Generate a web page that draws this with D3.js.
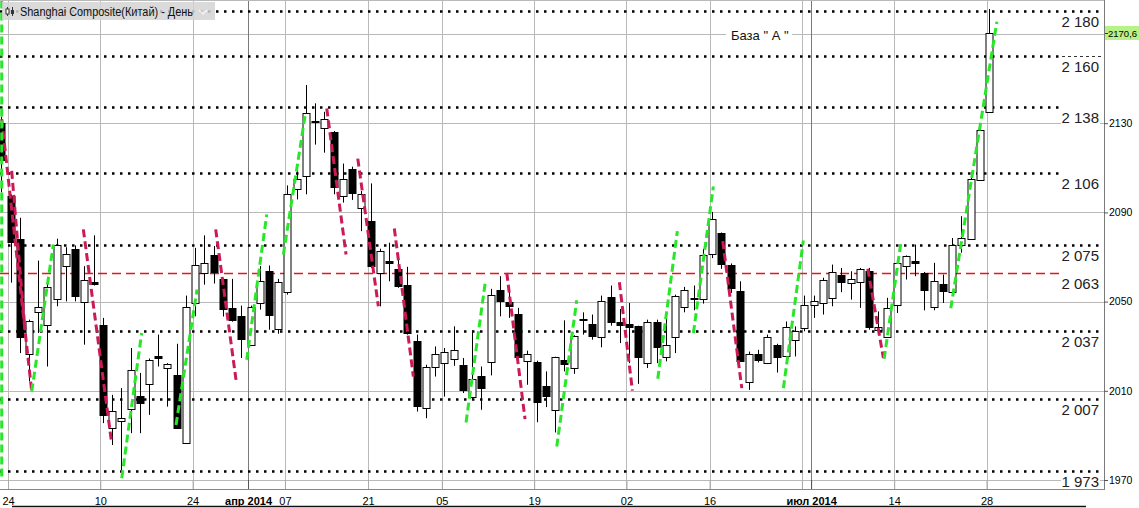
<!DOCTYPE html>
<html>
<head>
<meta charset="utf-8">
<script src="https://cdn.jsdelivr.net/npm/d3@7"></script>
<style>
  html, body { margin: 0; padding: 0; background: #fff; }
  svg { display: block; font-family: "Liberation Sans", Arial, sans-serif; }
</style>
</head>
<body>
<div id="chart"></div>
<script>
// Daily candles, Feb 21 2014 (index -1) .. Jul 28 2014 (index 106)
const firstIndex = -1;
const open = [2130.3, 2097.2, 2077.9, 2026.5, 2045.4, 2039.5, 2051.2, 2066.2, 2073.7, 2049.9, 2059.0,
  2039.5, 1993.7, 1996.4, 2001.8, 2007.8, 2013.0, 2025.7, 2020.2, 2017.2, 1986.5, 2049.4,
  2062.9, 2070.7, 2060.2, 2047.2, 2043.7, 2030.5, 2049.4, 2063.8, 2037.7, 2054.5,
  2100.8, 2106.0, 2130.9, 2127.6, 2126.1, 2097.4, 2109.6, 2091.7, 2086.1, 2062.9,
  2068.2, 2064.4, 2057.6, 2032.5, 2002.2, 2020.9, 2022.4, 2024.2, 2021.7, 2007.2,
  2016.7, 2022.9, 2055.4, 2049.7, 2044.6, 2023.6, 2023.0, 2012.2, 2001.5, 2023.6,
  2020.2, 2042.1, 2040.1, 2034.4, 2052.1, 2040.7, 2039.8, 2038.9, 2022.4, 2041.0,
  2025.1, 2034.4, 2047.9, 2051.8, 2051.2, 2071.0, 2080.6, 2066.2, 2054.9, 2013.9,
  2026.6, 2022.4, 2030.7, 2025.4, 2032.6, 2038.4, 2048.5, 2049.4, 2051.7, 2062.1,
  2058.4, 2058.4, 2063.6, 2037.4, 2034.1, 2048.2, 2065.9, 2068.1, 2062.9, 2047.6,
  2058.1, 2054.2, 2075.2, 2078.2, 2104.5, 2135.1];
const high = [2133.0, 2098.0, 2087.6, 2041.9, 2068.4, 2058.4, 2078.2, 2074.4, 2075.2, 2065.9, 2079.7,
  2042.7, 2008.2, 2011.2, 2029.2, 2018.0, 2024.5, 2035.2, 2022.4, 2031.1, 2052.7, 2074.1,
  2079.7, 2074.9, 2060.4, 2060.2, 2048.2, 2048.2, 2065.9, 2066.2, 2060.2, 2102.1,
  2109.6, 2147.1, 2138.9, 2135.1, 2126.5, 2111.9, 2110.5, 2099.6, 2103.0, 2073.7,
  2076.4, 2070.7, 2065.6, 2035.2, 2021.7, 2029.9, 2029.2, 2038.9, 2024.7, 2037.0,
  2020.9, 2055.7, 2061.4, 2056.2, 2047.2, 2028.0, 2023.5, 2018.7, 2025.3, 2041.6,
  2034.9, 2045.2, 2044.2, 2052.7, 2057.2, 2046.7, 2049.4, 2039.2, 2041.9, 2041.9,
  2045.2, 2053.1, 2056.6, 2057.2, 2073.7, 2090.2, 2081.0, 2067.1, 2059.1, 2027.6,
  2028.4, 2035.2, 2031.1, 2041.1, 2038.9, 2052.7, 2052.7, 2060.7, 2066.6, 2065.1,
  2063.6, 2065.1, 2065.1, 2045.6, 2051.7, 2068.0, 2070.7, 2075.6, 2063.3, 2067.4,
  2062.1, 2078.5, 2088.3, 2108.1, 2127.6, 2181.2];
const low = [2099.0, 2058.5, 2026.9, 2014.2, 2035.9, 2020.9, 2047.9, 2050.1, 2050.1, 2030.7, 2057.2,
  1995.5, 1985.7, 1971.5, 1991.0, 1991.0, 1999.2, 2020.9, 2002.9, 1993.2, 1986.5, 2043.4,
  2057.6, 2058.1, 2043.3, 2041.0, 2024.7, 2030.2, 2046.4, 2037.4, 2035.6, 2053.1,
  2095.8, 2098.1, 2120.4, 2116.8, 2098.1, 2094.4, 2095.6, 2081.6, 2065.1, 2047.9,
  2059.1, 2056.2, 2035.2, 2000.7, 1997.7, 2016.4, 2007.4, 2021.2, 2009.0, 2006.0,
  2001.5, 2016.9, 2043.4, 2042.7, 2024.7, 2012.7, 1995.9, 2002.7, 1991.3, 2018.7,
  2017.6, 2035.2, 2032.9, 2029.5, 2039.2, 2031.4, 2022.4, 2013.1, 2020.2, 2022.4,
  2023.2, 2026.9, 2045.2, 2046.1, 2049.1, 2069.5, 2064.7, 2053.9, 2023.2, 2010.4,
  2022.7, 2022.0, 2018.2, 2025.3, 2025.4, 2036.7, 2042.7, 2044.2, 2047.9, 2054.2,
  2050.9, 2047.2, 2037.4, 2035.9, 2033.8, 2044.9, 2059.9, 2061.4, 2046.1, 2046.1,
  2049.4, 2054.0, 2071.9, 2077.9, 2104.4, 2134.8];
const close = [2113.8, 2076.5, 2034.0, 2041.5, 2047.6, 2056.6, 2075.5, 2071.4, 2052.8, 2059.8, 2058.1,
  1999.1, 2001.1, 1997.7, 2019.3, 2004.5, 2023.9, 2025.0, 2022.0, 1993.5, 2047.6, 2066.6,
  2067.4, 2063.2, 2046.7, 2041.6, 2033.2, 2047.4, 2059.3, 2044.0, 2059.0, 2098.4,
  2105.2, 2134.4, 2130.4, 2131.8, 2101.5, 2105.2, 2098.9, 2098.1, 2065.9, 2072.9,
  2067.5, 2056.9, 2035.9, 2003.3, 2020.7, 2026.6, 2027.4, 2028.4, 2010.4, 2015.4,
  2011.2, 2053.1, 2050.6, 2047.9, 2025.1, 2026.6, 2005.2, 2007.8, 2025.1, 2021.6,
  2034.7, 2041.7, 2034.7, 2050.4, 2040.7, 2039.3, 2038.4, 2025.1, 2040.9, 2029.9,
  2030.7, 2052.7, 2055.4, 2051.2, 2071.0, 2086.9, 2066.6, 2055.7, 2023.6, 2026.6,
  2023.9, 2034.1, 2025.4, 2038.6, 2036.7, 2048.5, 2050.1, 2059.9, 2063.2, 2059.1,
  2060.2, 2064.4, 2038.6, 2038.6, 2047.2, 2067.1, 2070.4, 2067.1, 2055.4, 2059.1,
  2055.1, 2075.5, 2078.5, 2105.2, 2126.9, 2170.6];

// Time axis ticks (bar index) and labels
const tickIndex = [0, 10, 20, 26, 30, 39, 47, 57, 67, 76, 86, 87, 96, 106];
const tickLabels = ["24", "10", "24", "апр 2014", "07", "21", "05", "19", "02", "16", "", "июл 2014", "14", "28"];
const monthTicks = ["апр 2014", "июл 2014"];

// Price axis
const priceTicks = [2130, 2090, 2050, 2010, 1970];
const gridPrices = [2170, 2130, 2090, 2050, 2010, 1970];
const lastPrice = 2170.6;

// Analyst levels
const levelValues = [2180.5, 2160, 2137.3, 2107.7, 2075.5, 2037, 2006.5, 1974];
const levelLabels = ["2 180", "2 160", "2 138", "2 106", "2 075", "2 037", "2 007", "1 973"];
const redLevel = 2063;
const redLevelLabel = "2 063";

// Trend strokes [startIndex, startPrice, endIndex, endPrice]
const redTrends = [
  [-0.95, 2131.8, 2.3, 2009.7], [0.13, 2108.6, 1.57, 2037.4], [7.89, 2082.4, 10.96, 1986.5],
  [22.23, 2082.4, 24.43, 2014.9], [34.26, 2136.6, 36.35, 2071.1], [37.62, 2114.1, 39.85, 2047.9],
  [41.58, 2082.8, 43.64, 2016.4], [53.76, 2062.9, 55.74, 1997.3], [65.96, 2058.7, 67.37, 2010.1],
  [77.16, 2077.1, 79.22, 2011.2], [92.87, 2064.7, 94.56, 2024.7]
];
const greenTrends = [
  [-0.95, 2185.0, -0.95, 1970.0], [2.3, 2009.7, 4.64, 2075.6], [12.05, 1970.8, 14.21, 2035.9],
  [17.93, 1994.7, 20.21, 2055.4], [25.59, 2023.9, 27.76, 2089.1], [29.56, 2071.1, 31.91, 2133.3],
  [49.35, 1995.8, 51.41, 2058.0], [59.18, 1985.0, 61.34, 2050.6], [70.12, 2015.4, 72.24, 2081.6],
  [73.98, 2035.9, 76.14, 2101.6], [83.73, 2011.2, 85.89, 2077.4], [94.64, 2024.3, 96.45, 2076.4],
  [101.86, 2047.0, 106.85, 2175.5]
];

const title = "Shanghai Composite(Китай) - День";
const note = "База \" А \"";

// Layout
const W = 1139, H = 508;
const plotRight = 1104, plotBottom = 489;

const svg = d3.select("#chart").append("svg")
  .attr("width", W)
  .attr("height", H);

svg.append("rect").attr("width", W).attr("height", H).attr("fill", "#fff");

svg.append("defs").append("clipPath").attr("id", "plot")
  .append("rect").attr("x", 0).attr("y", 0).attr("width", plotRight).attr("height", plotBottom);

// Scales
const x = d3.scaleLinear().domain([0, 106]).range([10.5, 989]);
const y = d3.scaleLinear().domain([1970, 2170]).range([480, 34]);
const gridShift = -2.5; // platform draws date lines slightly left of bar centre

const plot = svg.append("g").attr("clip-path", "url(#plot)");

// Grid
plot.selectAll(".hgrid").data(gridPrices).enter().append("line")
  .attr("x1", 0).attr("x2", plotRight)
  .attr("y1", d => Math.round(y(d)) + 0.5).attr("y2", d => Math.round(y(d)) + 0.5)
  .attr("stroke", "#b9b9b9");

const tickData = tickIndex.map((d, i) => ({ i: d, label: tickLabels[i] }));
const tx = d => Math.round(x(d.i) + gridShift) + 0.5;

plot.selectAll(".vgrid").data(tickData).enter().append("line")
  .attr("x1", tx).attr("x2", tx)
  .attr("y1", 0).attr("y2", plotBottom)
  .attr("stroke", d => monthTicks.includes(d.label) ? "#7a7a7a" : "#b9b9b9");

// Level lines
const shortLevels = ["2 160", "2 138", "2 106"];
plot.selectAll(".level").data(levelValues).enter().append("line")
  .attr("x1", 0)
  .attr("x2", (d, i) => shortLevels.includes(levelLabels[i]) ? 1062 : plotRight)
  .attr("y1", d => Math.round(y(d)) + 0.5).attr("y2", d => Math.round(y(d)) + 0.5)
  .attr("stroke", "#000").attr("stroke-width", 2.5)
  .attr("stroke-dasharray", "2.5 5.5");

plot.append("line")
  .attr("x1", 1062).attr("x2", plotRight)
  .attr("y1", Math.round(y(levelValues[1])) + 0.5).attr("y2", Math.round(y(levelValues[1])) + 0.5)
  .attr("stroke", "#333").attr("stroke-dasharray", "3 3");

plot.append("line")
  .attr("x1", 0).attr("x2", 1064)
  .attr("y1", Math.round(y(redLevel)) + 0.5).attr("y2", Math.round(y(redLevel)) + 0.5)
  .attr("stroke", "#e3161c").attr("stroke-width", 1.5)
  .attr("stroke-dasharray", "9 5");

// Candles
const bars = open.map((o, k) => ({ i: k + firstIndex, o: o, h: high[k], l: low[k], c: close[k] }));
const cx = d => Math.round(x(d.i)) + 0.5;

const candle = plot.selectAll(".candle").data(bars).enter().append("g");

candle.append("line")
  .attr("x1", cx).attr("x2", cx)
  .attr("y1", d => y(d.h)).attr("y2", d => y(d.l))
  .attr("stroke", "#000");

candle.append("rect")
  .attr("x", d => cx(d) - 3.5)
  .attr("width", 7)
  .attr("y", d => Math.round(y(Math.max(d.o, d.c))) + 0.5)
  .attr("height", d => Math.max(1, Math.round(Math.abs(y(d.o) - y(d.c)))))
  .attr("fill", d => d.c > d.o ? "#fff" : "#000")
  .attr("stroke", "#000");

// Trend strokes
function drawTrends(data, color) {
  plot.selectAll(null).data(data).enter().append("line")
    .attr("x1", d => x(d[0])).attr("y1", d => y(d[1]))
    .attr("x2", d => x(d[2])).attr("y2", d => y(d[3]))
    .attr("stroke", color).attr("stroke-width", 3)
    .attr("stroke-dasharray", "8 4");
}
drawTrends(redTrends, "#cc1a55");
drawTrends(greenTrends, "#28e628");

// Level labels with white backing
const allLevels = levelValues.map((v, i) => ({ v: v, t: levelLabels[i] }))
  .concat([{ v: redLevel, t: redLevelLabel }]);

const lbl = svg.selectAll(".lvl").data(allLevels).enter().append("g")
  .attr("transform", d => `translate(1099,${Math.round(y(d.v)) + 15.5})`);
lbl.append("rect")
  .attr("x", -38).attr("y", -12).attr("width", 39).attr("height", 15)
  .attr("fill", "#fff");
lbl.append("text")
  .attr("text-anchor", "end")
  .attr("font-size", 15)
  .attr("fill", "#222")
  .text(d => d.t);

// Note
const noteG = svg.append("g").attr("transform", `translate(731,${Math.round(y(2170)) + 6})`);
noteG.append("rect").attr("x", -5).attr("y", -10).attr("width", 66).attr("height", 14).attr("fill", "#fff");
noteG.append("text").attr("font-size", 13).attr("fill", "#111").text(note);

// Right price axis
svg.append("line")
  .attr("x1", plotRight + 0.5).attr("x2", plotRight + 0.5)
  .attr("y1", 0).attr("y2", plotBottom)
  .attr("stroke", "#7a7a7a");

const yAxis = d3.axisRight(y)
  .tickValues(priceTicks)
  .tickSize(4)
  .tickPadding(1)
  .tickFormat(d3.format("d"));

svg.append("g")
  .attr("transform", `translate(${plotRight},0)`)
  .call(yAxis)
  .call(g => g.select(".domain").remove())
  .call(g => g.selectAll("text").attr("font-size", 10.5).attr("fill", "#000")
    .attr("font-family", "Liberation Sans, Arial, sans-serif"))
  .call(g => g.selectAll("line").attr("stroke", "#555"));

// Current price marker
const lp = svg.append("g").attr("transform", `translate(${plotRight + 1},${Math.round(y(lastPrice))})`);
lp.append("rect").attr("x", 0).attr("y", -7).attr("width", 40).attr("height", 14).attr("fill", "#b8f184");
lp.append("line").attr("x1", 0).attr("x2", 3).attr("y1", 0.5).attr("y2", 0.5).attr("stroke", "#333");
lp.append("text").attr("x", 3).attr("y", 4).attr("font-size", 9.5).attr("fill", "#000")
  .text(d3.format(".1f")(lastPrice).replace(".", ","));

// Time axis
const xAxis = d3.axisBottom(x)
  .tickValues(tickIndex)
  .tickSize(9)
  .tickFormat((d, i) => tickLabels[i]);

const xg = svg.append("g")
  .attr("transform", `translate(${gridShift},480)`)
  .call(xAxis);
xg.select(".domain").remove();
xg.selectAll("line").attr("stroke", (d, i) => monthTicks.includes(tickLabels[i]) ? "#555" : "#aaa");
xg.selectAll("text")
  .attr("y", 17)
  .attr("font-size", 11)
  .attr("font-family", "Liberation Sans, Arial, sans-serif")
  .attr("font-weight", (d, i) => monthTicks.includes(tickLabels[i]) ? "bold" : "normal")
  .attr("fill", "#000");

svg.append("line")
  .attr("x1", 0).attr("x2", plotRight + 1)
  .attr("y1", plotBottom + 0.5).attr("y2", plotBottom + 0.5)
  .attr("stroke", "#888");

svg.append("line")
  .attr("x1", 12).attr("x2", 1086)
  .attr("y1", 506.5).attr("y2", 506.5)
  .attr("stroke", "#111").attr("stroke-width", 1.5);

svg.append("line")
  .attr("x1", 0).attr("x2", plotRight)
  .attr("y1", 0.5).attr("y2", 0.5)
  .attr("stroke", "#b9b9b9");

// Title box
const tb = svg.append("g").attr("transform", "translate(2,2)");
tb.append("rect").attr("width", 213).attr("height", 18).attr("fill", "#d4d4d4").attr("opacity", 0.85);
tb.append("line").attr("x1", 5.5).attr("x2", 5.5).attr("y1", 5).attr("y2", 14).attr("stroke", "#333");
tb.append("rect").attr("x", 4).attr("y", 7).attr("width", 3).attr("height", 5).attr("fill", "#fff").attr("stroke", "#333");
tb.append("line").attr("x1", 10.5).attr("x2", 10.5).attr("y1", 5).attr("y2", 14).attr("stroke", "#333");
tb.append("rect").attr("x", 9).attr("y", 8).attr("width", 3).attr("height", 4).attr("fill", "#333");
tb.append("text").attr("x", 18).attr("y", 13.5).attr("font-size", 12.5).attr("fill", "#111")
  .attr("textLength", 173).attr("lengthAdjust", "spacingAndGlyphs").text(title);
tb.append("path").attr("d", "M197,8 L201,12 L205,8").attr("fill", "none")
  .attr("stroke", "#f4f4f4").attr("stroke-width", 1.5);
</script>
</body>
</html>
